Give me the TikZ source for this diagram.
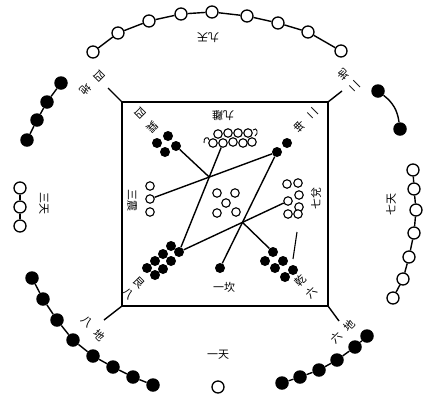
\documentclass[tikz,border=0pt]{standalone}
\usepackage{fontspec}
\newfontfamily\cjk{Noto Sans CJK TC}
\begin{document}
\begin{tikzpicture}[x=1pt,y=-1pt,
  wdot/.style={circle,draw,line width=1.3pt,fill=white,minimum size=12pt,inner sep=0pt},
  bdot/.style={circle,fill=black,minimum size=13.5pt,inner sep=0pt},
  swdot/.style={circle,draw,line width=1.1pt,fill=white,minimum size=8.5pt,inner sep=0pt},
  sbdot/.style={circle,fill=black,minimum size=10pt,inner sep=0pt},
  link/.style={line width=1.4pt},
  lab/.style={font=\cjk\fontsize{11}{11}\selectfont,inner sep=0pt}]
\useasboundingbox (0,0) rectangle (430,410);

% ---------- square ----------
\coordinate (q1) at (122,102); \coordinate (q2) at (328,102);
\coordinate (q3) at (328,306); \coordinate (q4) at (122,306);
\draw[line width=1.5pt] (q1) -- (q2) -- (q3) -- (q4) -- cycle;
\coordinate (c1) at (108,88); \coordinate (c2) at (342,91);
\coordinate (c3) at (104,320); \coordinate (c4) at (339,321);
\draw[link] (q1) -- (c1); \draw[link] (q2) -- (c2);
\draw[link] (q4) -- (c3); \draw[link] (q3) -- (c4);

% ---------- outer: top, nine (white) ----------
\foreach \i/\x/\y in {1/93/52,2/118/33,3/149/21,4/181/14,5/212/12,6/247/16,7/278/23,8/308/32,9/341/51}
  \node[wdot] (t\i) at (\x,\y) {};
\draw[link] (t1) -- (t2) -- (t3) -- (t4) -- (t5) -- (t6) -- (t7) -- (t8) -- (t9);
\node[lab,rotate=180] (lt) at (208,38) {九天};

% ---------- outer: top-left, four (black) ----------
\foreach \i/\x/\y in {1/61/83,2/47/102,3/37/120,4/27/140}
  \node[bdot] (tl\i) at (\x,\y) {};
\draw[link] (tl1) -- (tl2) -- (tl3) -- (tl4);
\node[lab,rotate=225] (ltla) at (99,76) {四};
\node[lab,rotate=225] (ltlb) at (86,89) {地};

% ---------- outer: top-right, two (black) ----------
\node[bdot] (tr1) at (378,91) {};
\node[bdot] (tr2) at (400,129) {};
\draw[link] (tr1) to[bend left=22] (tr2);
\node[lab,rotate=135] (ltra) at (355,86) {二};
\node[lab,rotate=135] (ltrb) at (344,75) {地};

% ---------- outer: left, three (white) ----------
\foreach \i/\y in {1/188,2/207,3/226}
  \node[wdot] (l\i) at (20,\y) {};
\draw[link] (l1) -- (l2) -- (l3);
\node[lab,rotate=-90] (ll) at (44,203) {三天};

% ---------- outer: right, seven (white) ----------
\foreach \i/\x/\y in {1/413/170,2/414/189,3/416/210,4/414/233,5/409/257,6/403/279,7/393/298}
  \node[wdot] (r\i) at (\x,\y) {};
\draw[link] (r1) -- (r2) -- (r3) -- (r4) -- (r5) -- (r6) -- (r7);
\node[lab,rotate=90] (lr) at (391,204) {七天};

% ---------- outer: bottom-left, eight (black) ----------
\foreach \i/\x/\y in {1/32/278,2/43/299,3/57/320,4/73/340,5/93/356,6/113/367,7/133/377,8/153/385}
  \node[bdot] (bl\i) at (\x,\y) {};
\draw[link] (bl1) -- (bl2) -- (bl3) -- (bl4) -- (bl5) -- (bl6) -- (bl7) -- (bl8);
\node[lab,rotate=-45] (lbla) at (87,322) {八};
\node[lab,rotate=-45] (lblb) at (99,335) {地};

% ---------- outer: bottom-right, six (black) ----------
\foreach \i/\x/\y in {1/367/336,2/355/347,3/337/360,4/319/370,5/300/377,6/282/383}
  \node[bdot] (br\i) at (\x,\y) {};
\draw[link] (br1) -- (br2) -- (br3) -- (br4) -- (br5) -- (br6);
\node[lab,rotate=45] (lbra) at (336,338) {六};
\node[lab,rotate=45] (lbrb) at (349,326) {地};

% ---------- outer: bottom, one (white) ----------
\node[wdot] (b1) at (218,387) {};
\node[lab] (lb) at (218,355) {一天};

% ---------- inner groups ----------
% four (black)
\foreach \i/\x/\y in {a/157/143,b/168/136,c/176/146,d/165/152}
  \node[sbdot] (i4\i) at (\x,\y) {};
% nine (white)
\foreach \i/\x/\y in {a/218/134,b/228/133,c/238/133,d/248/133,e/213/143,f/223/143,g/233/142,h/243/143,k/252/142}
  \node[swdot] (i9\i) at (\x,\y) {};
\draw[line width=0.9pt] (204,143) .. controls (203,137) and (209,136) .. (209,140);
\draw[line width=0.9pt] (253,130) .. controls (257,126) and (259,134) .. (255,136);
% two (black)
\node[sbdot] (i2a) at (287,143) {};
\node[sbdot] (i2b) at (277,152) {};
% three (white)
\foreach \i/\y in {a/186,b/199,c/212}
  \node[swdot] (i3\i) at (150,\y) {};
% five (white)
\foreach \i/\x/\y in {a/217/193,b/235/193,c/226/203,d/217/213,e/236/212}
  \node[swdot] (i5\i) at (\x,\y) {};
% seven (white)
\foreach \i/\x/\y in {a/287/184,b/298/183,c/299/195,d/288/201,e/299/207,f/288/214,g/298/214}
  \node[swdot] (i7\i) at (\x,\y) {};
% eight (black)
\foreach \i/\x/\y in {a/179/252,b/171/246,c/171/261,d/163/254,e/163/269,f/155/261,g/155/275,h/147/268}
  \node[sbdot] (i8\i) at (\x,\y) {};
% one (black)
\node[sbdot] (i1) at (220,268) {};
% six (black)
\foreach \i/\x/\y in {a/273/252,b/265/261,c/283/261,d/275/268,e/293/270,f/285/277}
  \node[sbdot] (i6\i) at (\x,\y) {};

% ---------- inner lines ----------
\coordinate (A) at (intersection of i3b--i2b and i9f--i8a);
\coordinate (B) at (intersection of i2b--i1 and i7d--i8a);
\draw[link] (i3b) -- (A) -- (i2b);
\draw[link] (i9f) -- (A) -- (i8a);
\draw[link] (i4c) -- (A);
\draw[link] (i2b) -- (B) -- (i1);
\draw[link] (i7d) -- (B) -- (i8a);
\draw[link] (B) -- (i6a);
\coordinate (s1) at (297,232); \coordinate (s2) at (293,259);
\draw[line width=1.1pt] (s1) -- (s2);

% ---------- inner labels ----------
\node[lab,rotate=225] (k4a) at (140,113) {四};
\node[lab,rotate=225] (k4b) at (152,127) {巽};
\node[lab,rotate=180] (k9) at (223,116) {九離};
\node[lab,rotate=135] (k2a) at (313,113) {二};
\node[lab,rotate=135] (k2b) at (300,127) {坤};
\node[lab,rotate=-90] (k3) at (132,200) {三震};
\node[lab,rotate=90] (k7) at (316,198) {七兌};
\node[lab,rotate=-45] (k8a) at (128,294) {八};
\node[lab,rotate=-45] (k8b) at (139,283) {艮};
\node[lab] (k1) at (224,287) {一坎};
\node[lab,rotate=45] (k6a) at (311,293) {六};
\node[lab,rotate=45] (k6b) at (300,281) {乾};
\end{tikzpicture}
\end{document}
